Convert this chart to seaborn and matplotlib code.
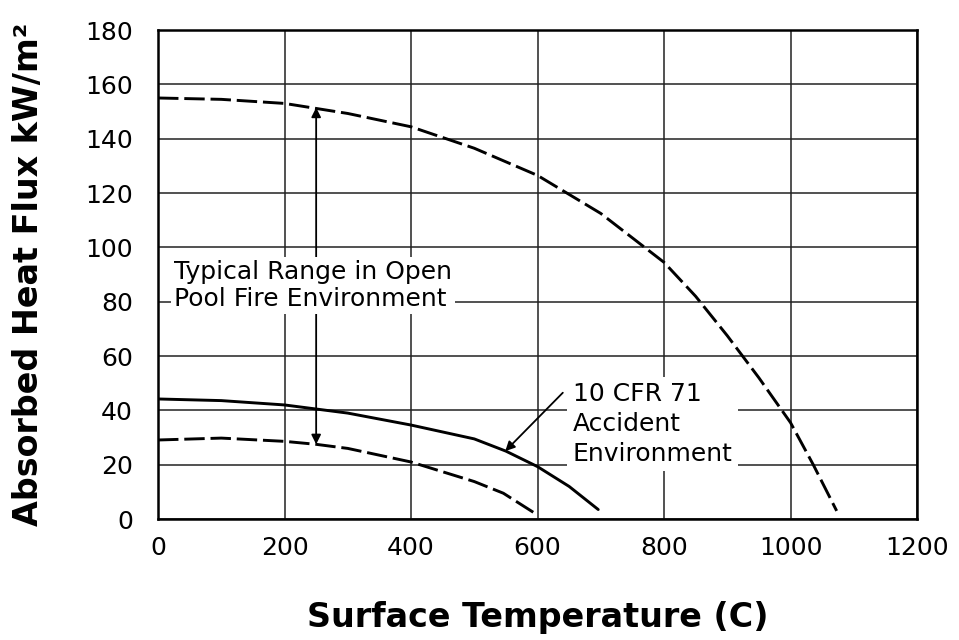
import numpy as np
import pandas as pd
import seaborn as sns
import matplotlib.pyplot as plt

# values
pool_upper_temp = [0, 100, 200, 300, 400, 500, 600, 700, 800, 850, 900, 950, 1000, 1036, 1073]
pool_upper_flux = [155, 154.5, 153, 149.3, 144.4, 136.5, 126.5, 112.5, 94.5, 82, 67.5, 52, 35.5, 20, 3]

cfr_temp = [0, 100, 200, 300, 400, 500, 550, 600, 650, 696]
cfr_flux = [44.2, 43.6, 42, 39, 34.6, 29.5, 25, 19.3, 12, 3.5]

pool_lower_temp = [0, 100, 200, 250, 300, 400, 500, 546, 600]
pool_lower_flux = [29.1, 29.8, 28.6, 27.5, 26, 21, 13.8, 9.5, 1.5]

x_ticks = [0, 200, 400, 600, 800, 1000, 1200]
y_ticks = [0, 20, 40, 60, 80, 100, 120, 140, 160, 180]

sns.set_style("white")
plt.rcParams['font.family'] = ['DejaVu Sans']
plt.rcParams['text.color'] = 'black'
plt.rcParams['axes.labelcolor'] = 'black'

fig = plt.figure(figsize=(9.59, 6.4), dpi=100)
ax = fig.add_axes([0.1648, 0.189, 0.7914, 0.764])

upper = pd.DataFrame({'T': pool_upper_temp, 'q': pool_upper_flux})
cfr = pd.DataFrame({'T': cfr_temp, 'q': cfr_flux})
lower = pd.DataFrame({'T': pool_lower_temp, 'q': pool_lower_flux})

sns.lineplot(data=upper, x='T', y='q', ax=ax, color='black', lw=2.1, zorder=3)
sns.lineplot(data=cfr, x='T', y='q', ax=ax, color='black', lw=2.1, zorder=3)
sns.lineplot(data=lower, x='T', y='q', ax=ax, color='black', lw=2.1, zorder=3)
ax.lines[0].set_dashes((7, 2))
ax.lines[2].set_dashes((7, 2))

ax.set_xlim(0, 1200)
ax.set_ylim(0, 180)
ax.set_xticks(x_ticks)
ax.set_yticks(y_ticks)
ax.grid(True, color='#222222', lw=1.1, zorder=1)
ax.set_axisbelow(True)
for s in ax.spines.values():
    s.set_color('black')
    s.set_linewidth(1.8)
ax.tick_params(axis='both', length=0, labelsize=18, colors='black')
ax.tick_params(axis='x', pad=12)
ax.tick_params(axis='y', pad=18)

ax.set_xlabel('Surface Temperature (C)', fontsize=24, fontweight='bold', labelpad=30)
ax.set_ylabel('Absorbed Heat Flux kW/m²', fontsize=24, fontweight='bold', labelpad=29)

# typical range double arrow
ax.annotate('', xy=(250, 151.5), xytext=(250, 27.5),
            arrowprops=dict(arrowstyle='<|-|>', color='black', lw=1.3,
                            mutation_scale=14, shrinkA=0, shrinkB=0), zorder=2)
ax.text(25, 86, 'Typical Range in Open\nPool Fire Environment', fontsize=18,
        va='center', ha='left', linespacing=1.2, zorder=4,
        bbox=dict(facecolor='white', edgecolor='none', pad=2))

# 10 CFR 71 callout
ax.annotate('', xy=(549, 25), xytext=(640, 46.5),
            arrowprops=dict(arrowstyle='-|>', color='black', lw=1.3,
                            mutation_scale=14, shrinkA=0, shrinkB=0), zorder=4)
ax.text(656, 35, '10 CFR 71\nAccident\nEnvironment', fontsize=18,
        va='center', ha='left', linespacing=1.3, zorder=4,
        bbox=dict(facecolor='white', edgecolor='none', pad=4))

fig.savefig('out.png', dpi=100)
